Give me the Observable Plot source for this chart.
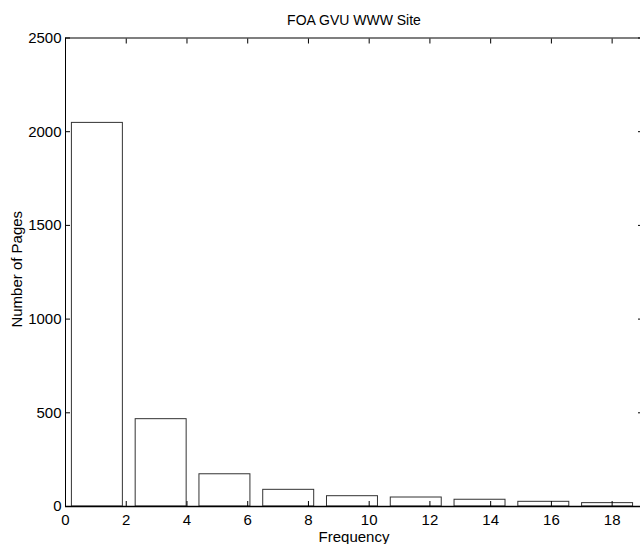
<!DOCTYPE html>
<html><head><meta charset="utf-8">
<script src="https://cdn.jsdelivr.net/npm/d3@7"></script>
<script src="https://cdn.jsdelivr.net/npm/@observablehq/plot@0.6"></script>
<style>body{margin:0;background:#fff}</style>
</head><body><div id="chart"></div>
<script>
const binStarts = [0, 2.1, 4.2, 6.3, 8.4, 10.5, 12.6, 14.7, 16.8];
const binEnds = [2.1, 4.2, 6.3, 8.4, 10.5, 12.6, 14.7, 16.8, 18.9];
const pageCounts = [2047, 466, 172, 89, 55, 48, 36, 25, 18];
const xTicks = [0, 2, 4, 6, 8, 10, 12, 14, 16, 18];
const yTicks = [0, 500, 1000, 1500, 2000, 2500];
const titleText = "FOA GVU WWW Site";
const xLabelText = "Frequency";
const yLabelText = "Number of Pages";

const bins = pageCounts.map((n, i) => ({lo: binStarts[i], hi: binEnds[i], n}));
const fmt = d3.format("d");

const chart = Plot.plot({
  width: 640,
  height: 544,
  marginLeft: 65,
  marginRight: -2,
  marginTop: 37.5,
  marginBottom: 38,
  style: {fontFamily: "'Liberation Sans', Arial, sans-serif", fontSize: "15px", background: "white", color: "black"},
  x: {domain: [0, 19]},
  y: {domain: [0, 2500]},
  marks: [
    Plot.rectY(bins, {x1: "lo", x2: "hi", y: "n", fill: "white", stroke: "#333", strokeWidth: 1, insetLeft: 6.4, insetRight: 6.4}),
    Plot.frame({stroke: "black"}),
    Plot.ruleY([0], {stroke: "black", strokeWidth: 1.5}),
    Plot.axisX(xTicks, {anchor: "bottom", tickSize: -5, fill: "none", label: null}),
    Plot.axisX(xTicks, {anchor: "bottom", tickSize: 0, tickPadding: 8, label: null, fontSize: 15, tickFormat: fmt}),
    Plot.axisX(xTicks, {anchor: "top", tickSize: -5, fill: "none", label: null}),
    Plot.axisY(yTicks, {anchor: "left", tickSize: -5, fill: "none", label: null}),
    Plot.axisY(yTicks, {anchor: "left", tickSize: 0, tickPadding: 4, label: null, fontSize: 15, tickFormat: fmt}),
    Plot.axisY(yTicks, {anchor: "right", tickSize: -5, fill: "none", label: null}),
    Plot.text([titleText], {text: d => d, frameAnchor: "top", lineAnchor: "middle", textAnchor: "middle", dy: -17, fontSize: 14}),
    Plot.text([xLabelText], {text: d => d, frameAnchor: "bottom", lineAnchor: "middle", textAnchor: "middle", dy: 30.5, fontSize: 15}),
    Plot.text([yLabelText], {text: d => d, frameAnchor: "left", lineAnchor: "middle", textAnchor: "middle", rotate: -90, dx: -48, dy: -3, fontSize: 15})
  ]
});
document.getElementById("chart").appendChild(chart);
</script>
</body></html>
